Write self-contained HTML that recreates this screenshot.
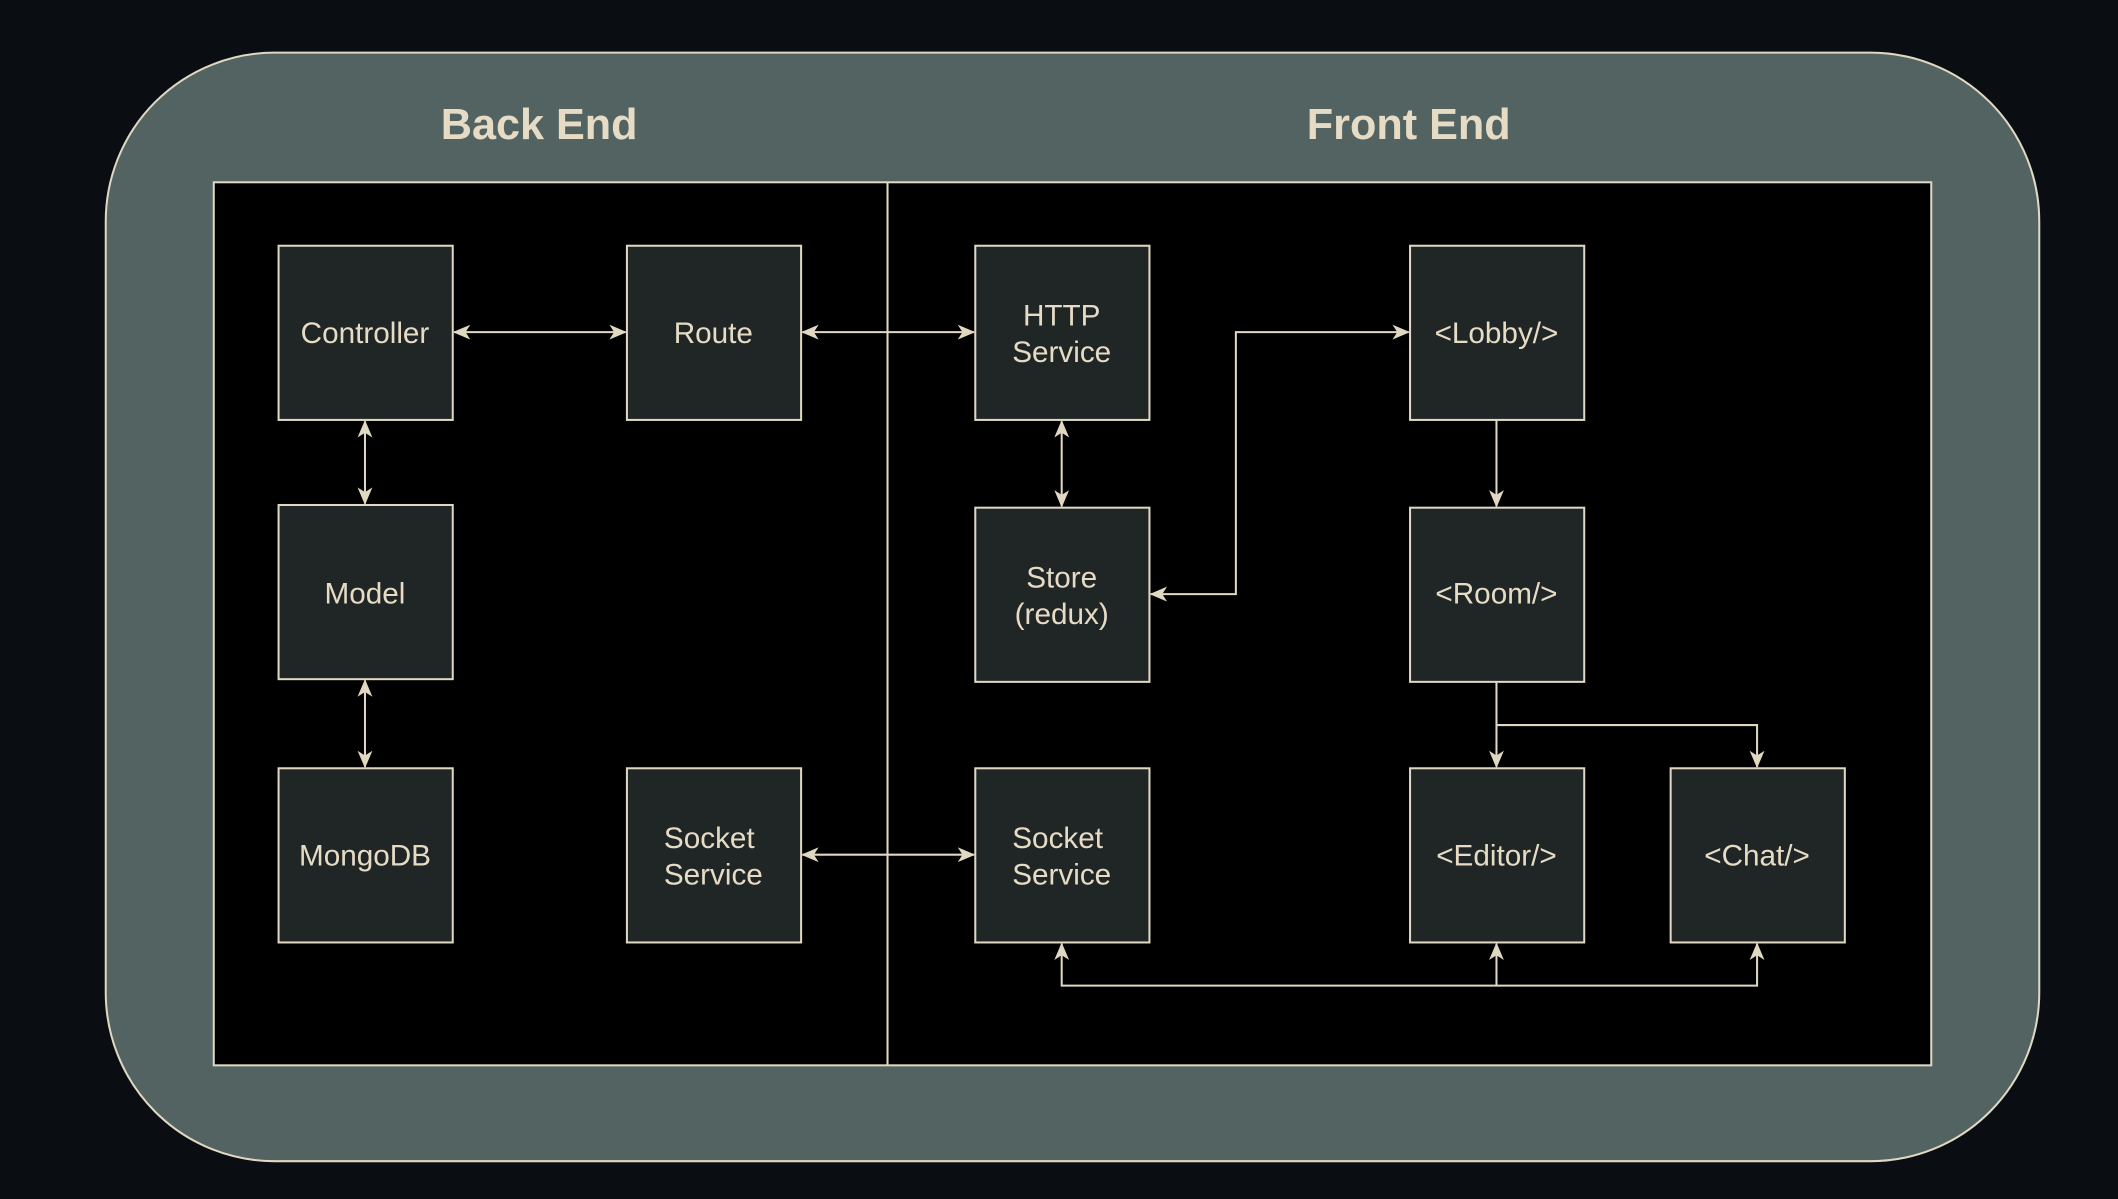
<!DOCTYPE html>
<html><head><meta charset="utf-8"><style>
html,body{margin:0;padding:0;background:#0a0e12;}
svg{display:block;}
text{font-family:"Liberation Sans",Arial,sans-serif;fill:#e6dcc6;}
</style></head><body>
<svg width="2118" height="1199" viewBox="0 0 1568 888" xmlns="http://www.w3.org/2000/svg">
<defs>
<marker id="a" viewBox="0 0 13 11" refX="12" refY="5.5" markerWidth="13" markerHeight="11" markerUnits="userSpaceOnUse" orient="auto-start-reverse">
<path d="M0,0 L13,5.5 L0,11 L3.5,5.5 Z" fill="#e0d8c2"/>
</marker>
</defs>
<rect x="0" y="0" width="1568" height="888" fill="#0a0e12"/>
<rect x="78" y="39" width="1432" height="821" rx="125" ry="125" fill="#536362" stroke="#e0d8c2" stroke-width="1.5"/>
<text x="399" y="103" font-size="32" font-weight="bold" text-anchor="middle">Back End</text>
<text x="1043" y="103" font-size="32" font-weight="bold" text-anchor="middle">Front End</text>
<rect x="158" y="135" width="1272" height="654" fill="#000" stroke="#e0d8c2" stroke-width="1.5"/>
<line x1="657" y1="135" x2="657" y2="789" stroke="#e0d8c2" stroke-width="1.5"/>
<g fill="#202626" stroke="#e0d8c2" stroke-width="1.5">
<rect x="206" y="182" width="129" height="129"/>
<rect x="464" y="182" width="129" height="129"/>
<rect x="722" y="182" width="129" height="129"/>
<rect x="1044" y="182" width="129" height="129"/>
<rect x="206" y="374" width="129" height="129"/>
<rect x="722" y="376" width="129" height="129"/>
<rect x="1044" y="376" width="129" height="129"/>
<rect x="206" y="569" width="129" height="129"/>
<rect x="464" y="569" width="129" height="129"/>
<rect x="722" y="569" width="129" height="129"/>
<rect x="1044" y="569" width="129" height="129"/>
<rect x="1237" y="569" width="129" height="129"/>
</g>
<g font-size="22" text-anchor="middle">
<text x="270" y="254">Controller</text>
<text x="528" y="254">Route</text>
<text x="786" y="241">HTTP</text>
<text x="786" y="268">Service</text>
<text x="1108" y="254">&lt;Lobby/&gt;</text>
<text x="270" y="447">Model</text>
<text x="786" y="435">Store</text>
<text x="786" y="462">(redux)</text>
<text x="1108" y="447">&lt;Room/&gt;</text>
<text x="270" y="641">MongoDB</text>
<text x="525" y="628">Socket</text>
<text x="528" y="655">Service</text>
<text x="783" y="628">Socket</text>
<text x="786" y="655">Service</text>
<text x="1108" y="641">&lt;Editor/&gt;</text>
<text x="1301" y="641">&lt;Chat/&gt;</text>
</g>
<g fill="none" stroke="#e0d8c2" stroke-width="1.5">
<line x1="336" y1="246" x2="463" y2="246" marker-start="url(#a)" marker-end="url(#a)"/>
<line x1="594" y1="246" x2="721" y2="246" marker-start="url(#a)" marker-end="url(#a)"/>
<line x1="270" y1="312" x2="270" y2="373" marker-start="url(#a)" marker-end="url(#a)"/>
<line x1="270" y1="504" x2="270" y2="568" marker-start="url(#a)" marker-end="url(#a)"/>
<line x1="786" y1="312" x2="786" y2="375" marker-start="url(#a)" marker-end="url(#a)"/>
<polyline points="1043,246 915,246 915,440 852,440" marker-start="url(#a)" marker-end="url(#a)"/>
<line x1="1108" y1="311" x2="1108" y2="375" marker-end="url(#a)"/>
<line x1="1108" y1="505" x2="1108" y2="568" marker-end="url(#a)"/>
<polyline points="1108,537 1301,537 1301,568" marker-end="url(#a)"/>
<line x1="594" y1="633" x2="721" y2="633" marker-start="url(#a)" marker-end="url(#a)"/>
<polyline points="786,699 786,730 1301,730 1301,699" marker-start="url(#a)" marker-end="url(#a)"/>
<line x1="1108" y1="730" x2="1108" y2="699" marker-end="url(#a)"/>
</g>
</svg>
</body></html>
